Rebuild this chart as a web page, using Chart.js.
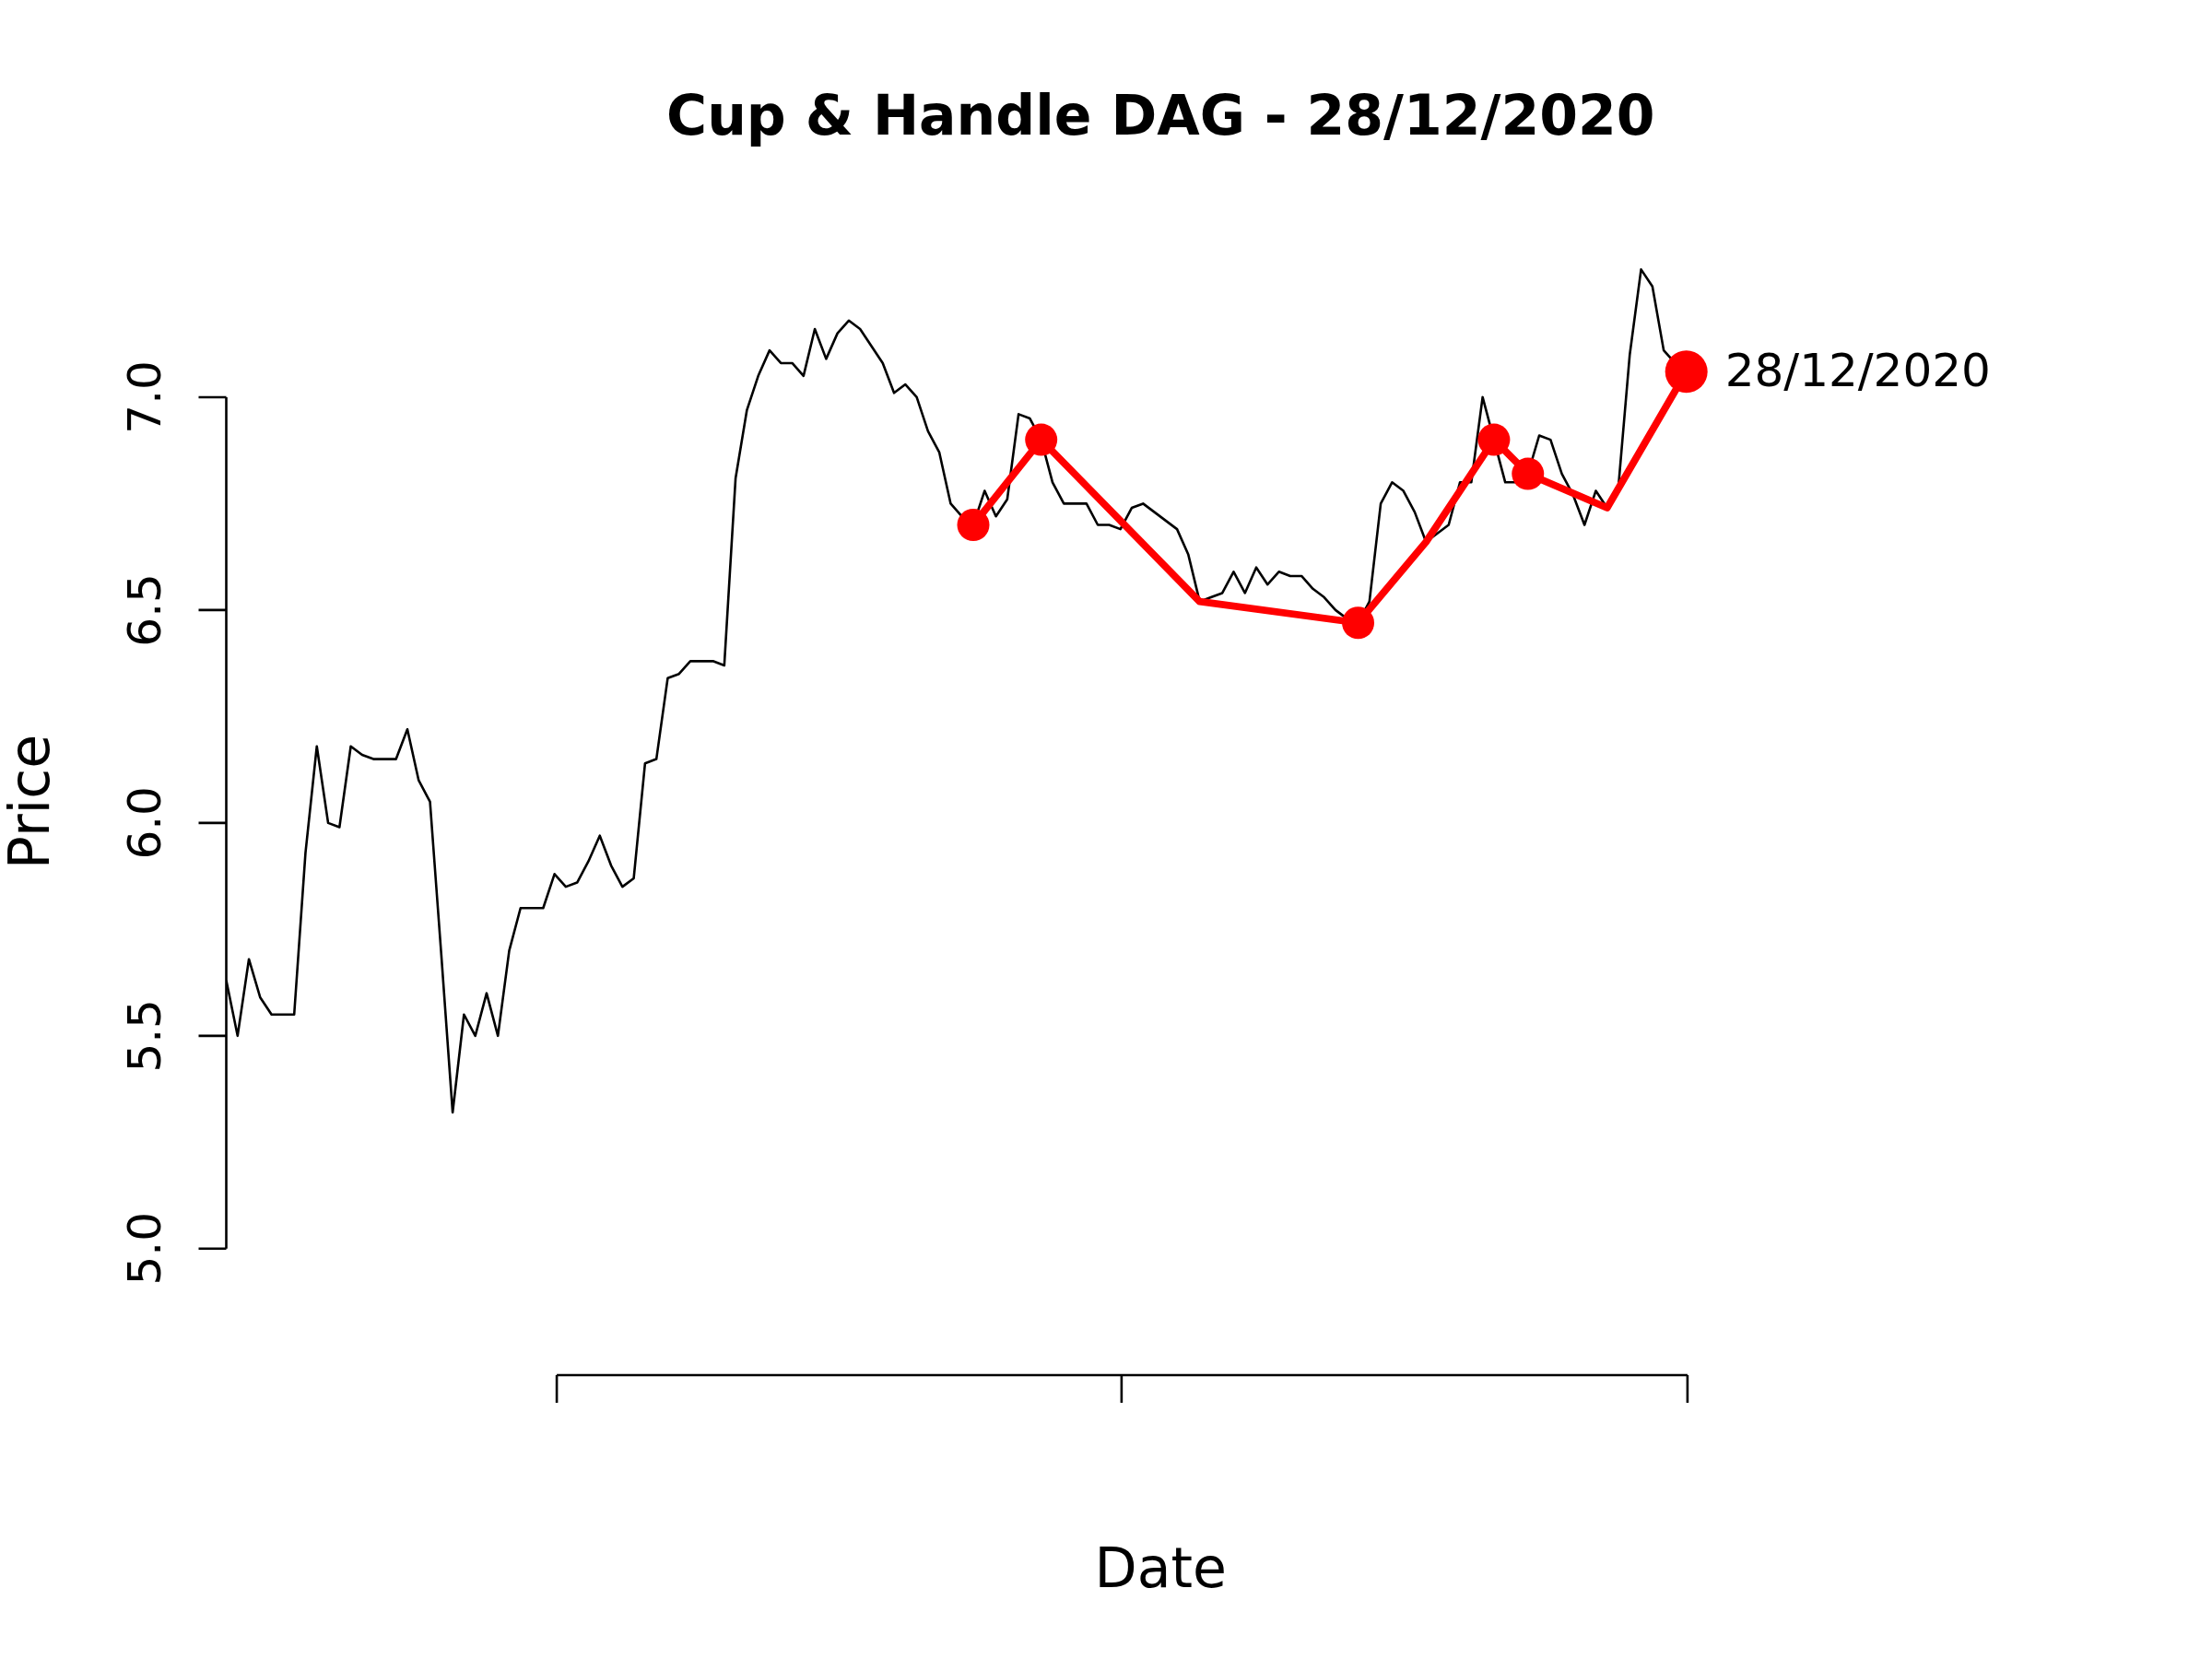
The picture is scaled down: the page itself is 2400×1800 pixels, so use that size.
<!DOCTYPE html>
<html>
<head>
<meta charset="utf-8">
<title>Cup &amp; Handle DAG - 28/12/2020</title>
<script src="https://cdn.jsdelivr.net/npm/chart.js@4/dist/chart.umd.min.js"></script>
<style>
  body { margin: 0; background: #fff; }
  canvas { display: block; }
</style>
</head>
<body>
<canvas id="chart" width="2400" height="1800"></canvas>
<script>
// closing prices, oldest first
const prices = [
  5.63, 5.50, 5.68, 5.59, 5.55, 5.55, 5.55, 5.93, 6.18, 6.00,
  5.99, 6.18, 6.16, 6.15, 6.15, 6.15, 6.22, 6.10, 6.05, 5.69,
  5.32, 5.55, 5.50, 5.60, 5.50, 5.70, 5.80, 5.80, 5.80, 5.88,
  5.85, 5.86, 5.91, 5.97, 5.90, 5.85, 5.87, 6.14, 6.15, 6.34,
  6.35, 6.38, 6.38, 6.38, 6.37, 6.81, 6.97, 7.05, 7.11, 7.08,
  7.08, 7.05, 7.16, 7.09, 7.15, 7.18, 7.16, 7.12, 7.08, 7.01,
  7.03, 7.00, 6.92, 6.87, 6.75, 6.72, 6.70, 6.78, 6.72, 6.76,
  6.96, 6.95, 6.90, 6.80, 6.75, 6.75, 6.75, 6.70, 6.70, 6.69,
  6.74, 6.75, 6.73, 6.71, 6.69, 6.63, 6.52, 6.53, 6.54, 6.59,
  6.54, 6.60, 6.56, 6.59, 6.58, 6.58, 6.55, 6.53, 6.50, 6.48,
  6.47, 6.52, 6.75, 6.80, 6.78, 6.73, 6.66, 6.68, 6.70, 6.80,
  6.80, 7.00, 6.90, 6.80, 6.80, 6.82, 6.91, 6.90, 6.82, 6.77,
  6.70, 6.78, 6.74, 6.79, 7.10, 7.30, 7.26, 7.11, 7.08, 7.06
];

const ticker = "DAG";
const lastDate = "28/12/2020";

// cup & handle pivots, as positions in the price series
const patternIdx = [66, 72, 86, 100, 106, 112, 115, 122, 129];
// pivots that get a dot
const markedIdx = [66, 72, 100, 112, 115];

const yTicks = [5.0, 5.5, 6.0, 6.5, 7.0];
// date axis ticks (unlabelled in the original), in series positions
const xTicks = [29.2, 79.1, 129.1];

const pricePoints = prices.map((p, i) => ({ x: i, y: p }));
const patternPoints = patternIdx.map(i => ({ x: i, y: prices[i] }));
const lastIdx = prices.length - 1;

// draws the axes and texts the way base R graphics does
const baseAxes = {
  id: 'baseAxes',
  afterDraw(chart) {
    const { ctx, chartArea: area, scales: { x, y } } = chart;
    const midX = (area.left + area.right) / 2;
    const midY = (area.top + area.bottom) / 2;
    ctx.save();
    ctx.strokeStyle = '#000';
    ctx.fillStyle = '#000';
    ctx.lineWidth = 2.6;

    // y axis
    ctx.beginPath();
    ctx.moveTo(area.left, y.getPixelForValue(yTicks[0]));
    ctx.lineTo(area.left, y.getPixelForValue(yTicks[yTicks.length - 1]));
    yTicks.forEach(t => {
      const py = y.getPixelForValue(t);
      ctx.moveTo(area.left, py);
      ctx.lineTo(area.left - 30, py);
    });
    ctx.stroke();

    ctx.font = '50px "DejaVu Sans"';
    ctx.textAlign = 'center';
    ctx.textBaseline = 'alphabetic';
    yTicks.forEach(t => {
      ctx.save();
      ctx.translate(area.left - 72, y.getPixelForValue(t));
      ctx.rotate(-Math.PI / 2);
      ctx.fillText(t.toFixed(1), 0, 0);
      ctx.restore();
    });

    // x axis
    ctx.beginPath();
    ctx.moveTo(x.getPixelForValue(xTicks[0]), area.bottom);
    ctx.lineTo(x.getPixelForValue(xTicks[xTicks.length - 1]), area.bottom);
    xTicks.forEach(t => {
      const px = x.getPixelForValue(t);
      ctx.moveTo(px, area.bottom);
      ctx.lineTo(px, area.bottom + 30);
    });
    ctx.stroke();

    // title and axis labels
    ctx.font = 'bold 60px "DejaVu Sans"';
    ctx.fillText(`Cup & Handle ${ticker} - ${lastDate}`, midX, 146);

    ctx.font = '60px "DejaVu Sans"';
    ctx.fillText('Date', midX, 1722);

    ctx.save();
    ctx.translate(53, midY);
    ctx.rotate(-Math.PI / 2);
    ctx.fillText('Price', 0, 0);
    ctx.restore();

    // date label next to the last point
    ctx.font = '50px "DejaVu Sans"';
    ctx.textAlign = 'left';
    ctx.textBaseline = 'middle';
    ctx.fillText(lastDate, x.getPixelForValue(lastIdx) + 42, y.getPixelForValue(prices[lastIdx]) + 3);
    ctx.restore();
  }
};

new Chart(document.getElementById('chart'), {
  type: 'scatter',
  data: {
    datasets: [
      {
        label: 'Price',
        data: pricePoints,
        showLine: true,
        borderColor: '#000',
        borderWidth: 2.6,
        pointRadius: 0,
        tension: 0,
        borderJoinStyle: 'round',
        order: 2
      },
      {
        label: 'Pattern',
        data: patternPoints,
        showLine: true,
        borderColor: '#ff0000',
        borderWidth: 7.8,
        borderJoinStyle: 'round',
        borderCapStyle: 'round',
        backgroundColor: '#ff0000',
        pointBackgroundColor: '#ff0000',
        pointBorderWidth: 0,
        pointRadius: c => {
          const idx = patternIdx[c.dataIndex];
          if (idx === lastIdx) return 23;
          return markedIdx.includes(idx) ? 17.5 : 0;
        },
        tension: 0,
        order: 1
      }
    ]
  },
  options: {
    responsive: false,
    devicePixelRatio: 1,
    animation: false,
    events: [],
    layout: { padding: { left: 245.5, right: 127, top: 248, bottom: 308 } },
    plugins: {
      legend: { display: false },
      tooltip: { enabled: false },
      title: { display: false }
    },
    scales: {
      x: { type: 'linear', min: 0, max: 165.1, display: false },
      y: { type: 'linear', min: 4.703, max: 7.396, display: false }
    }
  },
  plugins: [baseAxes]
});
</script>
</body>
</html>
